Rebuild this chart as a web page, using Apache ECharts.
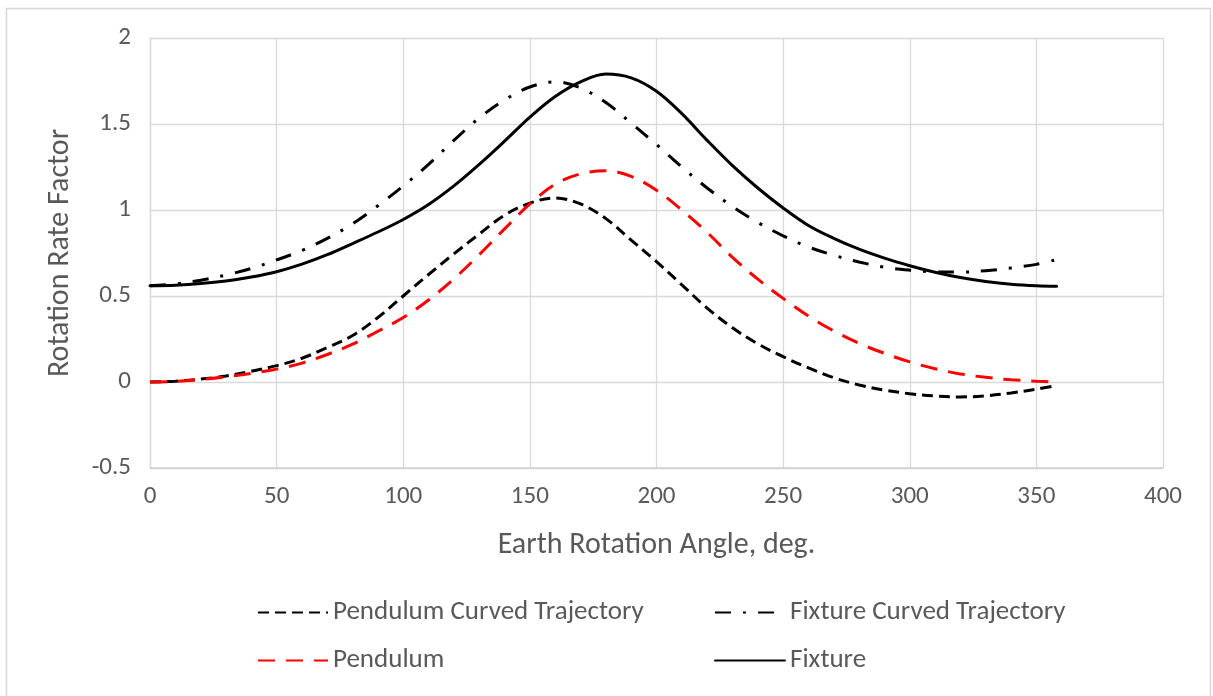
<!DOCTYPE html>
<html>
<head>
<meta charset="utf-8">
<script src="https://cdn.jsdelivr.net/npm/echarts@6/dist/echarts.min.js"></script>
<style>
html,body{margin:0;padding:0;background:#fff;}
#chart{width:1213px;height:696px;}
</style>
</head>
<body>
<div id="chart"></div>
<script>
// Earth rotation angle (deg)
const angles = [0,10,20,30,40,50,60,70,80,90,100,110,120,130,140,150,160,170,180,190,200,210,220,230,240,250,260,270,280,290,300,310,320,330,340,350,358];
const pendulumCurved = [0,0.005,0.017,0.035,0.062,0.095,0.138,0.2,0.27,0.375,0.5,0.625,0.745,0.86,0.97,1.04,1.07,1.035,0.95,0.825,0.70,0.565,0.43,0.315,0.222,0.147,0.082,0.025,-0.017,-0.047,-0.068,-0.081,-0.087,-0.08,-0.064,-0.042,-0.02];
const fixtureCurved = [0.56,0.57,0.592,0.622,0.66,0.71,0.765,0.835,0.92,1.025,1.14,1.265,1.405,1.535,1.64,1.715,1.745,1.71,1.625,1.505,1.38,1.25,1.128,1.02,0.928,0.85,0.785,0.737,0.698,0.667,0.65,0.64,0.639,0.647,0.663,0.684,0.712];
const pendulum = [0,0.004,0.015,0.03,0.05,0.075,0.11,0.16,0.22,0.295,0.375,0.477,0.6,0.74,0.89,1.035,1.15,1.21,1.228,1.195,1.115,1.0,0.87,0.725,0.598,0.486,0.383,0.297,0.225,0.167,0.117,0.077,0.047,0.027,0.013,0.005,0];
const fixture = [0.56,0.563,0.572,0.587,0.61,0.641,0.685,0.74,0.805,0.872,0.945,1.032,1.14,1.265,1.40,1.54,1.66,1.745,1.79,1.768,1.69,1.56,1.405,1.258,1.128,1.012,0.91,0.835,0.772,0.72,0.676,0.638,0.607,0.584,0.568,0.559,0.556];
const seriesNames = ['Pendulum Curved Trajectory','Fixture Curved Trajectory','Pendulum','Fixture'];
const xTicks = {min:0, max:400, interval:50};
const yTicks = {min:-0.5, max:2, interval:0.5};

const FONT = 'Carlito, Calibri, Lato, sans-serif';
const TXT = '#595959';
const pairs = ys => angles.map((a,i)=>[a, ys[i]]);

const chart = echarts.init(document.getElementById('chart'), null, {renderer:'canvas'});
const legendBase = {
  orient:'horizontal', itemWidth:70, itemHeight:14,
  itemStyle:{opacity:0},
  textStyle:{fontFamily:FONT, fontSize:27, color:TXT},
  selectedMode:false
};
chart.setOption({
  animation:false,
  backgroundColor:'#fff',
  graphic:[{type:'rect', shape:{x:6.5,y:8.5,width:1204,height:700}, style:{fill:'none', stroke:'#d9d9d9', lineWidth:1.5}, silent:true}],
  grid:{left:150, right:50, top:38, bottom:228, containLabel:false},
  legend:[
    Object.assign({}, legendBase, {data:[seriesNames[0]], left:252, top:594}),
    Object.assign({}, legendBase, {data:[seriesNames[1]], left:709, top:594}),
    Object.assign({}, legendBase, {data:[seriesNames[2]], left:252, top:642}),
    Object.assign({}, legendBase, {data:[seriesNames[3]], left:709, top:642})
  ],
  xAxis:{
    type:'value', min:xTicks.min, max:xTicks.max, interval:xTicks.interval,
    name:'Earth Rotation Angle, deg.', nameLocation:'middle', nameGap:62,
    nameTextStyle:{fontFamily:FONT, fontSize:30, color:TXT},
    axisLine:{show:true, onZero:false, lineStyle:{color:'#d0d0d0', width:1.5}},
    axisTick:{show:false},
    axisLabel:{fontFamily:FONT, fontSize:25, color:TXT, margin:16},
    splitLine:{show:true, lineStyle:{color:'#d9d9d9', width:1.3}}
  },
  yAxis:{
    type:'value', min:yTicks.min, max:yTicks.max, interval:yTicks.interval,
    name:'Rotation Rate Factor', nameLocation:'middle', nameGap:75,
    nameTextStyle:{fontFamily:FONT, fontSize:30, color:TXT},
    axisLine:{show:true, lineStyle:{color:'#d9d9d9', width:1.3}},
    axisTick:{show:false},
    axisLabel:{fontFamily:FONT, fontSize:25, color:TXT, margin:19},
    splitLine:{show:true, lineStyle:{color:'#d9d9d9', width:1.3}}
  },
  series:[
    {name:seriesNames[0], type:'line', data:pairs(pendulumCurved), showSymbol:false, symbol:'none', smooth:0.35,
     lineStyle:{color:'#000', width:3, type:[11,6], cap:'butt'}, itemStyle:{color:'#000'}},
    {name:seriesNames[1], type:'line', data:pairs(fixtureCurved), showSymbol:false, symbol:'none', smooth:0.35,
     lineStyle:{color:'#000', width:3, type:[16,12,3,12], cap:'butt'}, itemStyle:{color:'#000'}},
    {name:seriesNames[2], type:'line', data:pairs(pendulum), showSymbol:false, symbol:'none', smooth:0.35,
     lineStyle:{color:'#ff0000', width:3, type:[17,11], cap:'butt'}, itemStyle:{color:'#ff0000'}},
    {name:seriesNames[3], type:'line', data:pairs(fixture), showSymbol:false, symbol:'none', smooth:0.35,
     lineStyle:{color:'#000', width:3, type:'solid', cap:'round'}, itemStyle:{color:'#000'}}
  ]
});
</script>
</body>
</html>
